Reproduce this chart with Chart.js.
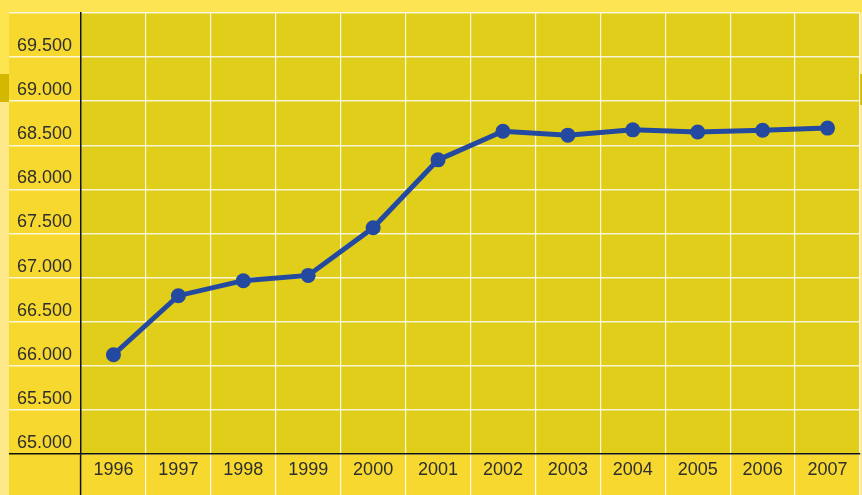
<!DOCTYPE html>
<html>
<head>
<meta charset="utf-8">
<script src="https://cdn.jsdelivr.net/npm/chart.js@4"></script>
<style>
  html, body { margin: 0; padding: 0; background: #fde552; }
  canvas { display: block; }
</style>
</head>
<body>
<canvas id="life-chart" width="862" height="495"></canvas>
<script>
const years = ['1996', '1997', '1998', '1999', '2000', '2001', '2002', '2003', '2004', '2005', '2006', '2007'];
const values = [66125, 66795, 66965, 67025, 67565, 68335, 68660, 68615, 68675, 68650, 68670, 68695];
const yMin = 65000;
const yMax = 70000;
const yStep = 500;

const ctx = document.getElementById('life-chart');

// german style thousands separator: 69500 -> 69.500
function fmt(v) {
    return String(v).replace(/\B(?=(\d{3})+(?!\d))/g, '.');
}

const backdrop = {
    id: 'backdrop',
    beforeDraw(chart) {
        const c = chart.ctx;
        const a = chart.chartArea;
        c.save();
        c.fillStyle = '#fde552';
        c.fillRect(0, 0, chart.width, chart.height);
        // light side strips
        c.fillStyle = '#fde88a';
        c.fillRect(0, 101, 9, chart.height - 101);
        c.fillRect(860, 13, 2, chart.height - 13);
        // dark tabs on both edges
        c.fillStyle = '#d4b800';
        c.fillRect(0, 74, 9, 28);
        c.fillRect(860, 74, 2, 31);
        // panel behind axes
        c.fillStyle = '#f7d82e';
        c.fillRect(9, 13, 851, chart.height - 13);
        // plot area
        c.fillStyle = '#e1ce1b';
        c.fillRect(a.left, a.top, a.right - a.left, a.bottom - a.top);
        c.restore();
    }
};

new Chart(ctx, {
    type: 'line',
    data: {
        labels: years,
        datasets: [{
            data: values,
            borderColor: '#2449a0',
            backgroundColor: '#2449a0',
            borderWidth: 5,
            pointRadius: 7.5,
            pointHoverRadius: 7.5,
            pointBorderWidth: 0,
            tension: 0
        }]
    },
    options: {
        responsive: false,
        animation: false,
        layout: {
            autoPadding: false,
            padding: { left: 9, right: 2, top: 13, bottom: 0 }
        },
        plugins: {
            legend: { display: false },
            title: { display: false },
            tooltip: { enabled: false }
        },
        scales: {
            x: {
                offset: true,
                grid: {
                    offset: true,
                    color: 'rgba(255,255,255,0.85)',
                    lineWidth: 1.2,
                    drawTicks: true,
                    tickLength: 41,
                    tickColor: c => c.index === 0 ? '#111' : 'rgba(255,255,255,0.85)',
                    tickWidth: c => c.index === 0 ? 1.5 : 1.2
                },
                border: { color: '#111', width: 1.5 },
                ticks: {
                    color: '#2e2e2e',
                    padding: -36,
                    maxRotation: 0,
                    font: { family: 'Liberation Sans', size: 18 }
                },
                afterFit(scale) {
                    scale.height = 41;
                    scale.paddingLeft = 0;
                    scale.paddingRight = 0;
                }
            },
            y: {
                min: yMin,
                max: yMax,
                grid: {
                    color: 'rgba(255,255,255,0.8)',
                    lineWidth: 1.5,
                    drawTicks: true,
                    tickLength: 72,
                    tickColor: c => c.index === 0 ? '#111' : 'rgba(255,255,255,0.8)',
                    tickWidth: 1.5
                },
                border: { color: '#111', width: 1.5 },
                ticks: {
                    stepSize: yStep,
                    color: '#2e2e2e',
                    padding: -63,
                    labelOffset: -11,
                    font: { family: 'Liberation Sans', size: 18 },
                    callback: v => v >= yMax ? '' : fmt(v)
                },
                afterFit(scale) {
                    scale.width = 72;
                    scale.paddingTop = 0;
                    scale.paddingBottom = 0;
                }
            }
        }
    },
    plugins: [backdrop]
});
</script>
</body>
</html>
